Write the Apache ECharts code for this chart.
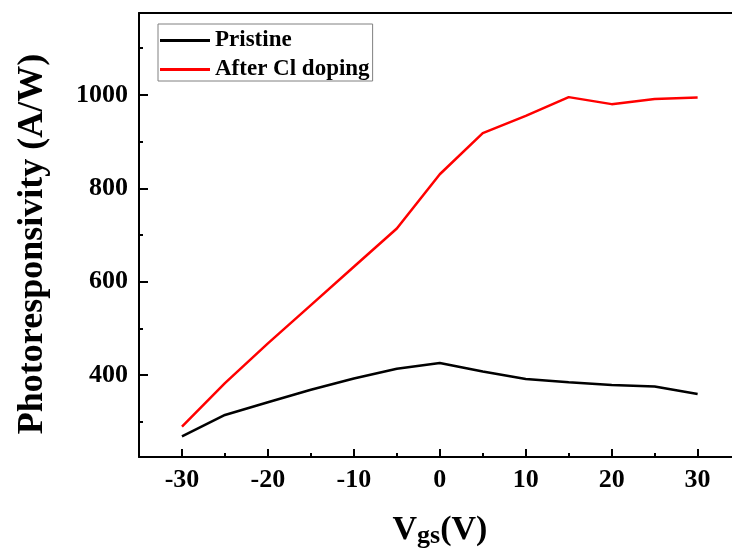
<!DOCTYPE html>
<html>
<head>
<meta charset="utf-8">
<script src="https://cdn.jsdelivr.net/npm/echarts@6/dist/echarts.min.js"></script>
<style>
  html, body { margin: 0; padding: 0; background: #fff; }
  #chart { width: 732px; height: 550px; }
</style>
</head>
<body>
<div id="chart"></div>
<script>
// Gate voltage sweep (V)
const vgs = [-30, -25, -20, -15, -10, -5, 0, 5, 10, 15, 20, 25, 30];
// Photoresponsivity (A/W)
const pristine = [269, 315, 342, 369, 393, 414, 426, 408, 392, 385, 379, 376, 360];
const clDoped = [290, 383, 468, 550, 632, 714, 830, 918, 955, 995, 980, 991, 994];
// Labelled and minor tick positions
const xMajorTicks = [-30, -20, -10, 0, 10, 20, 30];
const xMinorTicks = [-25, -15, -5, 5, 15, 25];
const yMajorTicks = [400, 600, 800, 1000];
const yMinorTicks = [300, 500, 700, 900, 1100];

const FONT = 'Liberation Serif';
const pairs = (ys) => vgs.map((x, i) => [x, ys[i]]);

// The frame runs off the right edge of the page, so the visible x range stops at 34
const X_MIN = -35, X_MAX = 34, Y_MIN = 225, Y_MAX = 1175;

const chart = echarts.init(document.getElementById('chart'));

const tickLabel = { fontFamily: FONT, fontWeight: 'bold', fontSize: 26, color: '#000', formatter: (v) => String(v) };

// Tick-only axis pulled inside the frame by its tick length, so its
// outward ticks end on the frame edge and point into the plot
function tickAxis(kind, values, len) {
  const base = kind === 'x'
    ? { min: X_MIN, max: X_MAX, position: 'bottom' }
    : { min: Y_MIN, max: Y_MAX, position: 'left' };
  return Object.assign({
    type: 'value',
    offset: -len,
    axisLine: { show: false, onZero: false },
    axisTick: { show: true, inside: false, length: len, lineStyle: { color: '#000', width: 2 }, customValues: values },
    axisLabel: { show: false },
    splitLine: { show: false }
  }, base);
}

chart.setOption({
  animation: false,
  backgroundColor: '#fff',
  grid: { left: 139, right: 0, top: 13, bottom: 93, outerBoundsMode: 'none' },
  legend: {
    orient: 'vertical',
    left: 158, top: 24,
    padding: [5, 3, 0, 2],
    itemGap: 6,
    icon: 'rect',
    itemWidth: 50, itemHeight: 3,
    borderColor: '#808080', borderWidth: 1,
    backgroundColor: '#fff',
    selectedMode: false,
    textStyle: { fontFamily: FONT, fontWeight: 'bold', fontSize: 23, lineHeight: 23, color: '#000' },
    data: ['Pristine', 'After Cl doping']
  },
  xAxis: [
    {
      type: 'value', min: X_MIN, max: X_MAX, position: 'bottom',
      axisLine: { show: true, onZero: false, lineStyle: { color: '#000', width: 2 } },
      axisTick: { show: false },
      axisLabel: Object.assign({ margin: 10, customValues: xMajorTicks }, tickLabel),
      splitLine: { show: false },
      name: '{v|V}{s|gs}{v|(V)}',
      nameLocation: 'middle',
      nameGap: 54,
      nameTextStyle: {
        padding: [0, 0, 0, 9],
        rich: {
          v: { fontFamily: FONT, fontWeight: 'bold', fontSize: 34, color: '#000' },
          s: { fontFamily: FONT, fontWeight: 'bold', fontSize: 26, color: '#000', padding: [12, 0, 0, 0] }
        }
      }
    },
    tickAxis('x', xMajorTicks, 8),
    tickAxis('x', xMinorTicks, 4),
    {
      // top frame edge
      type: 'value', min: X_MIN, max: X_MAX, position: 'top',
      axisLine: { show: true, onZero: false, lineStyle: { color: '#000', width: 2 } },
      axisTick: { show: false },
      axisLabel: { show: false },
      splitLine: { show: false }
    }
  ],
  yAxis: [
    {
      type: 'value', min: Y_MIN, max: Y_MAX, position: 'left',
      axisLine: { show: true, onZero: false, lineStyle: { color: '#000', width: 2 } },
      axisTick: { show: false },
      axisLabel: Object.assign({ margin: 11, customValues: yMajorTicks }, tickLabel),
      splitLine: { show: false },
      name: 'Photoresponsivity (A/W)',
      nameLocation: 'middle',
      nameGap: 88,
      nameTextStyle: { fontFamily: FONT, fontWeight: 'bold', fontSize: 36, color: '#000', padding: [0, 18, 0, 0] }
    },
    tickAxis('y', yMajorTicks, 9),
    tickAxis('y', yMinorTicks, 4)
  ],
  series: [
    {
      name: 'Pristine', type: 'line', xAxisIndex: 0, yAxisIndex: 0,
      data: pairs(pristine), symbol: 'none',
      lineStyle: { color: '#000', width: 2.5 }, itemStyle: { color: '#000' }
    },
    {
      name: 'After Cl doping', type: 'line', xAxisIndex: 0, yAxisIndex: 0,
      data: pairs(clDoped), symbol: 'none',
      lineStyle: { color: '#ff0000', width: 2.5 }, itemStyle: { color: '#ff0000' }
    }
  ]
});
</script>
</body>
</html>
